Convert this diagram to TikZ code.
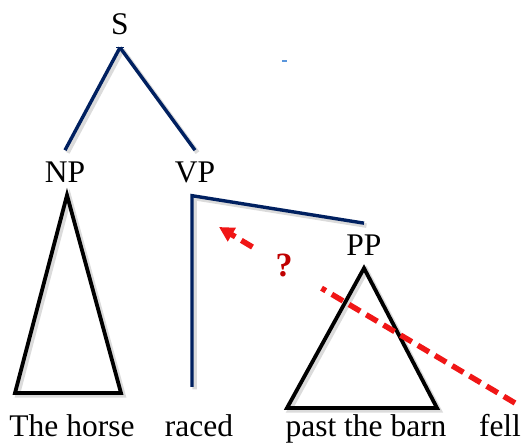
\documentclass[tikz,border=0pt]{standalone}
\usepackage{fontspec}
\setmainfont{Liberation Serif}
\usetikzlibrary{arrows.meta, positioning, calc}
\definecolor{navy}{RGB}{0,32,96}
\definecolor{brightred}{RGB}{240,22,22}
\definecolor{darkred}{RGB}{192,0,0}
\definecolor{paleblue}{RGB}{90,150,220}

\begin{document}
\begin{tikzpicture}[x=1pt, y=-1pt,
  lab/.style={anchor=base, inner xsep=2pt, inner ysep=12pt, font=\fontsize{31.5}{38}\selectfont},
  word/.style={lab, inner ysep=0pt},
  shade/.style={preaction={draw=black!14, line width=4.5pt, transform canvas={shift={(2.5pt,-2.5pt)}}}},
  branch/.style={navy, line width=3.4pt, shade},
  tri/.style={black, line width=3.8pt, line join=miter, shade},
  fellline/.style={brightred, line width=5.5pt, dash pattern=on 13pt off 7pt}]
  \useasboundingbox (0,0) rectangle (523,443);
  % labels
  \node[lab] (S) at (120,35) {S};
  \node[lab] (NP) at (65,183) {NP};
  \node[lab] (VP) at (195,183) {VP};
  \node[lab] (PP) at (364,256) {PP};
  \node[word] (the) at (72,436.5) {The horse};
  \node[word] (raced) at (199,436.5) {raced};
  \node[word] (past) at (366,436.5) {past the barn};
  \node[word] (fell) at (500,436.5) {fell};
  % tree
  \draw[branch] (S.south) -- (NP.north);
  \draw[branch] (S.south) -- (VP.north);
  \draw[navy, line width=1.6pt] ([xshift=-4pt]S.south) -- ([xshift=4pt]S.south);
  \coordinate (corner) at ([xshift=-3pt]VP.south);
  \draw[branch, line join=miter] (PP.north) -- (corner) -- (corner |- 0,387);
  % triangles
  \draw[tri] ([xshift=2pt]NP.south) -- (15,393) -- (121,393) -- cycle;
  \draw[tri] (PP.south) -- (287,408) -- (437,408) -- cycle;
  % reattachment
  \coordinate (fellend) at (515,403);
  \coordinate (tip) at (219,227);
  \node[circle, minimum size=80pt, inner sep=0pt] (q) at (287,267.7) {};
  \node[darkred, font=\bfseries\fontsize{34}{40}\selectfont] at (284,265) {?};
  \draw[fellline] (fellend) -- (q);
  \draw[fellline, -{Triangle[length=15pt, width=15pt]}] (q) -- (tip);
  \fill[paleblue] (282,60.5) rectangle (287,62);
\end{tikzpicture}
\end{document}
